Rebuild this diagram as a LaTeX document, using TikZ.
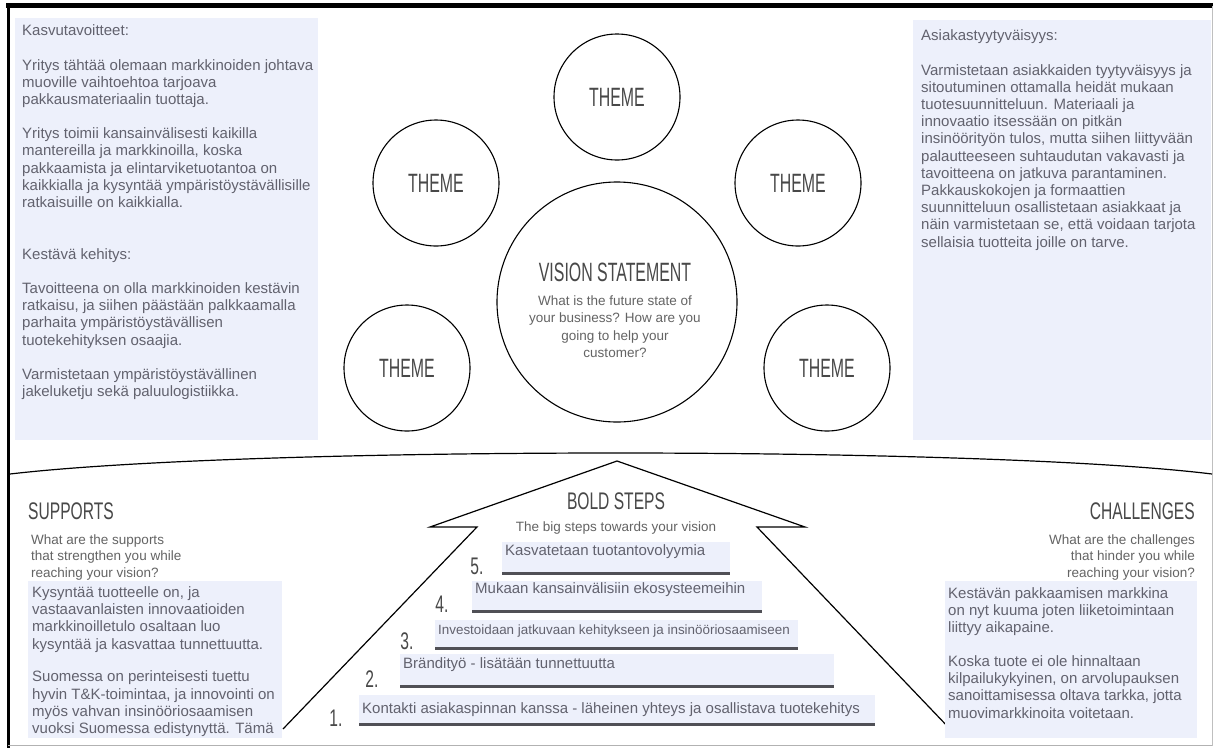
\documentclass[tikz,border=0pt]{standalone}
\usepackage{fontspec}
\setmainfont{Liberation Sans}
\newfontfamily\bodyf{Liberation Sans}
\newfontfamily\condf[FakeStretch=0.6]{Liberation Sans}
\newfontfamily\condg[FakeStretch=0.65]{Liberation Sans}
\newfontfamily\qf{Liberation Sans}
\newcommand\tightls{\lineskiplimit-20pt\relax}
\definecolor{panelblue}{RGB}{237,240,251}
\definecolor{bodygray}{RGB}{98,98,110}
\definecolor{qgray}{RGB}{100,100,100}
\definecolor{headgray}{RGB}{72,72,72}
\definecolor{ulgray}{RGB}{80,80,86}
\tikzset{
  panelbox/.style={fill=panelblue, draw=none, inner sep=0pt, anchor=north west},
  bodytxt/.style={anchor=base west, align=left, inner sep=0pt, text=bodygray,
    font=\bodyf\fontsize{15}{17.2}\selectfont\tightls},
  themecirc/.style={circle, draw=black, line width=1.1pt, minimum size=126pt, inner sep=0pt,
    text=headgray, font=\condf\fontsize{26.5}{26.5}\selectfont},
  headtxt/.style={inner sep=0pt, text=headgray, font=\condg\fontsize{24}{24}\selectfont},
  subq/.style={inner sep=0pt, text=qgray, font=\qf\fontsize{13.5}{16.5}\selectfont\tightls},
  steprect/.style={fill=panelblue, draw=none, inner sep=0pt, anchor=north west},
  stepline/.style={draw=ulgray, line width=2.4pt},
  stepnum/.style={anchor=base, inner sep=0pt, text=headgray, font=\condg\fontsize{24}{24}\selectfont},
  bigline/.style={draw=black, line width=1.2pt, line join=miter}
}
\begin{document}
\begin{tikzpicture}[x=1pt,y=-1pt]
\useasboundingbox (0,0) rectangle (1216,748);
\fill[white] (0,0) rectangle (1216,748);
% frame
\draw[black, line width=4.5pt] (6,5.5) -- (1213,5.5);
\draw[black, line width=3.5pt] (8.5,3.5) -- (8.5,748);
\draw[black!30, line width=1pt] (8,745.5) -- (1213,745.5);
\draw[black!25, line width=1pt] (1212.5,6) -- (1212.5,745.5);

% panels
\node[panelbox, minimum width=303pt, minimum height=422pt] (lp) at (15,18) {};
\node[panelbox, minimum width=298pt, minimum height=420pt] (rp) at (913,20) {};

% left panel text (anchor = baseline of last line)
\node[bodytxt] (k1) at (22,35.5) {Kasvutavoitteet:};
\node[bodytxt] (k2) at (22,104.4) {Yritys tähtää olemaan markkinoiden johtava\\muoville vaihtoehtoa tarjoava\\pakkausmateriaalin tuottaja.};
\node[bodytxt] (k3) at (22,207.5) {Yritys toimii kansainvälisesti kaikilla\\mantereilla ja markkinoilla, koska\\pakkaamista ja elintarviketuotantoa on\\kaikkialla ja kysyntää ympäristöystävällisille\\ratkaisuille on kaikkialla.};
\node[bodytxt] (k4) at (22,259) {Kestävä kehitys:};
\node[bodytxt] (k5) at (22,345.1) {Tavoitteena on olla markkinoiden kestävin\\ratkaisu, ja siihen päästään palkkaamalla\\parhaita ympäristöystävällisen\\tuotekehityksen osaajia.};
\node[bodytxt] (k6) at (22,396.7) {Varmistetaan ympäristöystävällinen\\jakeluketju sekä paluulogistiikka.};

% right panel text
\node[bodytxt] (a1) at (921,40.5) {Asiakastyytyväisyys:};
\node[bodytxt] (a2) at (921,247) {Varmistetaan asiakkaiden tyytyväisyys ja\\sitoutuminen ottamalla heidät mukaan\\tuotesuunnitteluun. Materiaali ja\\innovaatio itsessään on pitkän\\insinöörityön tulos, mutta siihen liittyvään\\palautteeseen suhtaudutan vakavasti ja\\tavoitteena on jatkuva parantaminen.\\Pakkauskokojen ja formaattien\\suunnitteluun osallistetaan asiakkaat ja\\näin varmistetaan se, että voidaan tarjota\\sellaisia tuotteita joille on tarve.};

% circles
\node[themecirc] (t1) at (617,97) {THEME};
\node[themecirc] (t2) at (436,183) {THEME};
\node[themecirc] (t3) at (798,183) {THEME};
\node[themecirc] (t4) at (407,368) {THEME};
\node[themecirc] (t5) at (827,368) {THEME};
\node[circle, draw=black, line width=1.1pt, minimum size=240pt, inner sep=0pt] (vis) at (617,302) {};
\node[inner sep=0pt, text=headgray, font=\condf\fontsize{26.5}{26.5}\selectfont] (vt) at (615,272) {VISION STATEMENT};
\node[anchor=base, align=center, inner sep=0pt, text=qgray, font=\qf\fontsize{13.5}{17.4}\selectfont\tightls] (vq) at (615,357.5) {What is the future state of\\your business? How are you\\going to help your\\customer?};

% arch line
\coordinate (archL) at (10,474);
\coordinate (archR) at (1212,474);
\draw[bigline] (archL) .. controls (250,446) and (984,446) .. (archR);

% big arrow
\coordinate (al) at (283,729);
\coordinate (aln) at (477,527);
\coordinate (alt) at (430,527);
\coordinate (apex) at (617,461);
\coordinate (art) at (805,527);
\coordinate (arn) at (757,527);
\coordinate (ar) at (951,730);
\draw[bigline] (al) -- (aln) -- (alt) -- (apex) -- (art) -- (arn) -- (ar);

\node[headtxt] (bs) at (616,501) {BOLD STEPS};
\node[anchor=base, inner sep=0pt, text=qgray, font=\qf\fontsize{13.5}{14}\selectfont] (bsq) at (616,531) {The big steps towards your vision};

% steps
\node[steprect, minimum width=228pt, minimum height=31pt] (b5) at (502,542) {};
\draw[stepline] (b5.south west) -- (b5.south east);
\node[bodytxt] (s5) at (505,555) {Kasvatetaan tuotantovolyymia};
\node[stepnum] (n5) at (477,574) {5.};

\node[steprect, minimum width=290pt, minimum height=30pt] (b4) at (472,581) {};
\draw[stepline] (b4.south west) -- (b4.south east);
\node[bodytxt] (s4) at (475,593) {Mukaan kansainvälisiin ekosysteemeihin};
\node[stepnum] (n4) at (442,612) {4.};

\node[steprect, minimum width=363pt, minimum height=28pt] (b3) at (435,620) {};
\draw[stepline] (b3.south west) -- (b3.south east);
\node[bodytxt, font=\bodyf\fontsize{13.4}{14}\selectfont] (s3) at (438,634) {Investoidaan jatkuvaan kehitykseen ja insinööriosaamiseen};
\node[stepnum] (n3) at (407,649) {3.};

\node[steprect, minimum width=434pt, minimum height=32pt] (b2) at (400,654) {};
\draw[stepline] (b2.south west) -- (b2.south east);
\node[bodytxt] (s2) at (403,668) {Brändityö - lisätään tunnettuutta};
\node[stepnum] (n2) at (372,687) {2.};

\node[steprect, minimum width=516pt, minimum height=29pt] (b1) at (359,695) {};
\draw[stepline] (b1.south west) -- (b1.south east);
\node[bodytxt] (s1) at (362,713) {Kontakti asiakaspinnan kanssa - läheinen yhteys ja osallistava tuotekehitys};
\node[stepnum] (n1) at (336,726) {1.};

% supports
\node[headtxt, anchor=west] (sup) at (28,511) {SUPPORTS};
\node[subq, anchor=base west, align=left] (supq) at (31,577) {What are the supports\\that strengthen you while\\reaching your vision?};
\node[panelbox, minimum width=254pt, minimum height=157pt] (sbox) at (28,581) {};
\node[bodytxt] (sp1) at (32,649) {Kysyntää tuotteelle on, ja\\vastaavanlaisten innovaatioiden\\markkinoilletulo osaltaan luo\\kysyntää ja kasvattaa tunnettuutta.};
\node[bodytxt] (sp2) at (32,733.5) {Suomessa on perinteisesti tuettu\\hyvin T\&K-toimintaa, ja innovointi on\\myös vahvan insinööriosaamisen\\vuoksi Suomessa edistynyttä. Tämä};

% challenges
\node[headtxt, anchor=east] (cha) at (1195,511) {CHALLENGES};
\node[subq, anchor=base east, align=right] (chaq) at (1195,577) {What are the challenges\\that hinder you while\\reaching your vision?};
\node[panelbox, minimum width=252pt, minimum height=157pt] (cbox) at (945,581) {};
\node[bodytxt] (ch1) at (948,632.9) {Kestävän pakkaamisen markkina\\on nyt kuuma joten liiketoimintaan\\liittyy aikapaine.};
\node[bodytxt] (ch2) at (948,718) {Koska tuote ei ole hinnaltaan\\kilpailukykyinen, on arvolupauksen\\sanoittamisessa oltava tarkka, jotta\\muovimarkkinoita voitetaan.};
\end{tikzpicture}
\end{document}
